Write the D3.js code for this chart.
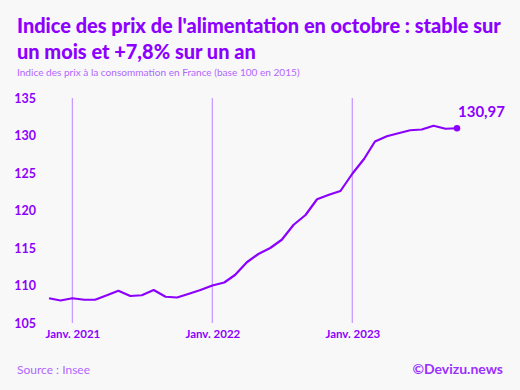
<!DOCTYPE html>
<html>
<head>
<meta charset="utf-8">
<script src="https://cdn.jsdelivr.net/npm/d3@7"></script>
<style>
  body { margin: 0; background: #f8f8f8; }
  svg { display: block; font-family: Lato, "Open Sans", sans-serif; }
</style>
</head>
<body>
<svg id="chart" width="520" height="390"></svg>
<script>
// monthly index, nov. 2020 -> oct. 2023
var months = d3.timeMonth.range(new Date(2020, 10, 1), new Date(2023, 10, 1));
var values = [108.3, 108.0, 108.3, 108.1, 108.1, 108.7, 109.3, 108.6, 108.7, 109.4, 108.5, 108.4,
              108.9, 109.4, 110.0, 110.4, 111.4, 113.1, 114.2, 115.0, 116.1, 118.1, 119.4, 121.5,
              122.1, 122.6, 124.9, 126.9, 129.2, 129.9, 130.3, 130.7, 130.8, 131.3, 130.9, 130.97];
var yTicks = [105, 110, 115, 120, 125, 130, 135];
var xTicks = [new Date(2021, 0, 1), new Date(2022, 0, 1), new Date(2023, 0, 1)];
var titleLines = ["Indice des prix de l'alimentation en octobre : stable sur", "un mois et +7,8% sur un an"];

var purple = "#8c00ff";
var svg = d3.select("#chart");
svg.append("rect").attr("width", 520).attr("height", 390).attr("fill", "#f8f8f8");

var x = d3.scaleTime().domain([months[0], months[months.length - 1]]).range([49, 457]);
var y = d3.scaleLinear().domain([105, 135]).range([323, 98]);

// title, fitted to the width of the original
var title = svg.append("g");
titleLines.forEach(function(t, i){
  title.append("text")
    .attr("x", 17).attr("y", 33 + i * 26)
    .attr("font-size", 20).attr("font-weight", 900)
    .attr("fill", purple).text(t);
});
var w = title.select("text").node().getComputedTextLength();
title.selectAll("text").attr("font-size", 20 * 484 / w);

var sub = svg.append("text").attr("x", 17).attr("y", 76)
  .attr("font-size", 11).attr("fill", "#b266ff")
  .text("Indice des prix à la consommation en France (base 100 en 2015)");
sub.attr("font-size", 11 * 283 / sub.node().getComputedTextLength());

// year lines
svg.selectAll(".vline").data(xTicks).enter().append("line")
  .attr("x1", function(d){ return x(d); }).attr("x2", function(d){ return x(d); })
  .attr("y1", y(135)).attr("y2", y(105))
  .attr("stroke", "#c99cff").attr("stroke-width", 1.3);

// axes
var yAxis = svg.append("g").attr("transform", "translate(36,0)")
  .call(d3.axisLeft(y).tickValues(yTicks).tickSize(0).tickPadding(0));
yAxis.select(".domain").remove();
yAxis.selectAll("text").attr("font-size", 12.5).attr("font-weight", 700)
  .attr("fill", purple).attr("font-family", "Lato, sans-serif");

var xAxis = svg.append("g").attr("transform", "translate(0,330)")
  .call(d3.axisBottom(x).tickValues(xTicks).tickSize(0).tickPadding(0)
    .tickFormat(function(d){ return "Janv. " + d.getFullYear(); }));
xAxis.select(".domain").remove();
xAxis.selectAll("text").attr("font-size", 11.5).attr("font-weight", 700)
  .attr("fill", purple).attr("font-family", "Lato, sans-serif");

// line
var line = d3.line()
  .x(function(d, i){ return x(months[i]); })
  .y(function(d){ return y(d); });
svg.append("path").datum(values)
  .attr("d", line).attr("fill", "none")
  .attr("stroke", purple).attr("stroke-width", 2.2)
  .attr("stroke-linejoin", "round");

var last = values.length - 1;
svg.append("circle")
  .attr("cx", x(months[last])).attr("cy", y(values[last]))
  .attr("r", 3.3).attr("fill", purple);
svg.append("text")
  .attr("x", x(months[last]) + 1).attr("y", y(values[last]) - 11)
  .attr("font-size", 15).attr("font-weight", 700).attr("fill", purple)
  .text(d3.format(".2f")(values[last]).replace(".", ","));

// footer
svg.append("text").attr("x", 17).attr("y", 374)
  .attr("font-size", 12).attr("fill", "#b266ff").text("Source : Insee");
svg.append("text").attr("x", 503).attr("y", 374).attr("text-anchor", "end")
  .attr("font-size", 14).attr("font-weight", 700).attr("fill", "#9b30ff").text("©Devizu.news");
</script>
</body>
</html>
